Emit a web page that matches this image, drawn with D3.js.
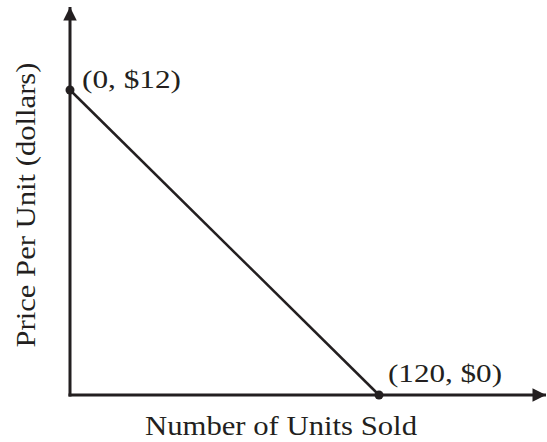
<!DOCTYPE html>
<html>
<head>
<meta charset="utf-8">
<script src="https://cdn.jsdelivr.net/npm/d3@7"></script>
<style>
  body { margin: 0; background: #fff; }
  svg { display: block; }
  text { font-family: "Liberation Serif", "DejaVu Serif", serif; fill: #231f20; }
</style>
</head>
<body>
<div id="chart"></div>
<script>
(function () {
  'use strict';

  // demand line endpoints: units sold vs price per unit
  var units = [0, 120];
  var prices = [12, 0];
  var pointLabels = ['(0, $12)', '(120, $0)'];

  var width = 547, height = 442;
  var ink = '#231f20';

  var svg = d3.select('#chart').append('svg')
    .attr('width', width).attr('height', height);

  var x = d3.scaleLinear().domain([0, 120]).range([70, 379]);
  var y = d3.scaleLinear().domain([0, 12]).range([395, 90]);

  svg.append('defs').append('marker')
    .attr('id', 'arrow').attr('viewBox', '0 0 10 10')
    .attr('refX', 10).attr('refY', 5)
    .attr('markerWidth', 5.5).attr('markerHeight', 4.5)
    .attr('markerUnits', 'strokeWidth')
    .attr('orient', 'auto')
    .append('path').attr('d', 'M0,0 L10,5 L0,10 Z').attr('fill', ink);

  // axes with arrowheads
  svg.append('line')
    .attr('x1', x(0)).attr('y1', y(0) + 1.5)
    .attr('x2', x(0)).attr('y2', 7)
    .attr('stroke', ink).attr('stroke-width', 3)
    .attr('marker-end', 'url(#arrow)');
  svg.append('line')
    .attr('x1', x(0) - 1.5).attr('y1', y(0))
    .attr('x2', 546).attr('y2', y(0))
    .attr('stroke', ink).attr('stroke-width', 3)
    .attr('marker-end', 'url(#arrow)');

  var pts = units.map(function (u, i) { return { u: u, p: prices[i], label: pointLabels[i] }; });

  svg.append('path')
    .datum(pts)
    .attr('d', d3.line().x(function (d) { return x(d.u); }).y(function (d) { return y(d.p); }))
    .attr('fill', 'none').attr('stroke', ink).attr('stroke-width', 2.5);

  svg.selectAll('.pt').data(pts).enter().append('circle')
    .attr('class', 'pt')
    .attr('cx', function (d) { return x(d.u); })
    .attr('cy', function (d) { return y(d.p); })
    .attr('r', 4.5).attr('fill', ink);

  // labels in the source are a bit wider than plain Times, so stretch them
  var labelLen = [99, 114];
  svg.selectAll('.pt-label').data(pts).enter().append('text')
    .attr('class', 'pt-label')
    .attr('x', function (d, i) { return x(d.u) + (i === 0 ? 12 : 9); })
    .attr('y', function (d, i) { return y(d.p) + (i === 0 ? -2 : -13); })
    .attr('textLength', function (d, i) { return labelLen[i]; })
    .attr('lengthAdjust', 'spacingAndGlyphs')
    .style('font-size', '26px')
    .text(function (d) { return d.label; });

  // axis titles
  svg.append('text')
    .attr('x', 281).attr('y', 435)
    .attr('text-anchor', 'middle').style('font-size', '28px')
    .attr('textLength', 272).attr('lengthAdjust', 'spacingAndGlyphs')
    .text('Number of Units Sold');

  svg.append('text')
    .attr('transform', 'translate(35,205) rotate(-90)')
    .attr('text-anchor', 'middle').style('font-size', '28px')
    .attr('textLength', 285).attr('lengthAdjust', 'spacingAndGlyphs')
    .text('Price Per Unit (dollars)');
})();
</script>
</body>
</html>
